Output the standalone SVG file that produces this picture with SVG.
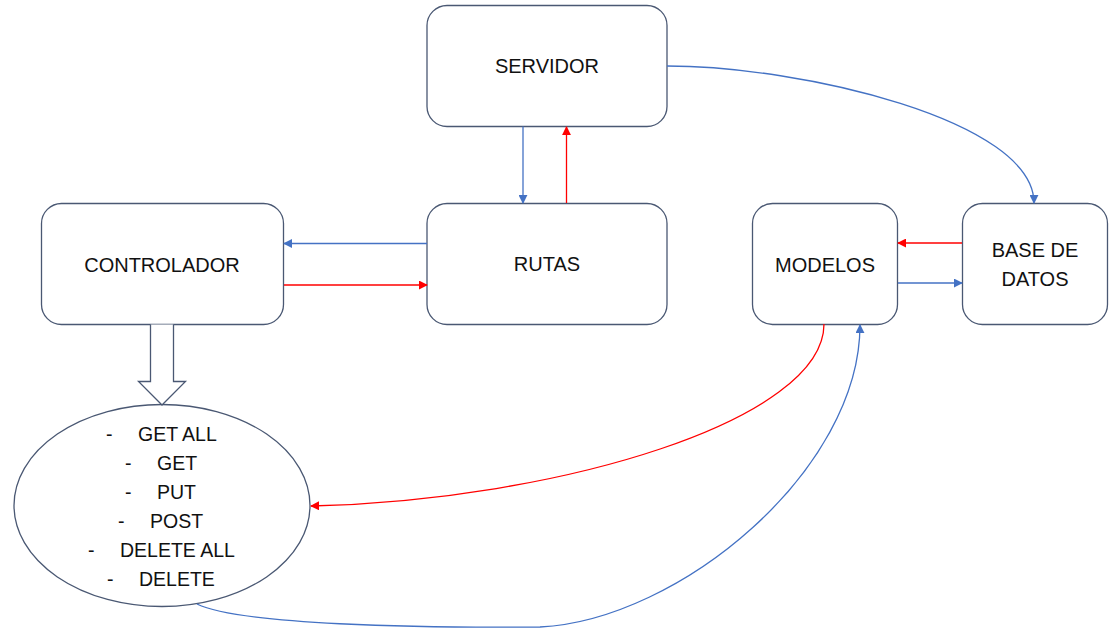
<svg xmlns="http://www.w3.org/2000/svg" width="1115" height="628" viewBox="0 0 1115 628">
  <style>
    .box { fill: #ffffff; stroke: #4a5873; stroke-width: 1.3; }
    .lbl { font-family: "Liberation Sans", Arial, sans-serif; font-size: 20px; fill: #111111; text-anchor: middle; }
    .item { font-family: "Liberation Sans", Arial, sans-serif; font-size: 19.5px; fill: #111111; }
    .blue { fill: none; stroke: #4472c4; stroke-width: 1.3; marker-end: url(#ahBlue); }
    .red { fill: none; stroke: #ff0000; stroke-width: 1.3; marker-end: url(#ahRed); }
  </style>
  <defs>
    <marker id="ahBlue" viewBox="0 0 10 10" refX="9" refY="5" markerWidth="9" markerHeight="9" markerUnits="userSpaceOnUse" orient="auto">
      <path d="M0,0 L10,5 L0,10 Z" fill="#4472c4"/>
    </marker>
    <marker id="ahRed" viewBox="0 0 10 10" refX="9" refY="5" markerWidth="9" markerHeight="9" markerUnits="userSpaceOnUse" orient="auto">
      <path d="M0,0 L10,5 L0,10 Z" fill="#ff0000"/>
    </marker>
  </defs>
  <rect width="1115" height="628" fill="#ffffff"/>

  <g id="servidor">
    <rect class="box" x="427" y="5.5" width="240" height="121" rx="20"/>
    <text class="lbl" x="547" y="73">SERVIDOR</text>
  </g>
  <g id="controlador">
    <rect class="box" x="41.5" y="203.5" width="242" height="121" rx="20"/>
    <text class="lbl" x="162" y="272">CONTROLADOR</text>
  </g>
  <g id="rutas">
    <rect class="box" x="427" y="203.5" width="240" height="121" rx="20"/>
    <text class="lbl" x="547" y="271">RUTAS</text>
  </g>
  <g id="modelos">
    <rect class="box" x="752.5" y="203.5" width="145" height="121" rx="20"/>
    <text class="lbl" x="825" y="272">MODELOS</text>
  </g>
  <g id="base-datos">
    <rect class="box" x="962.5" y="203.5" width="145" height="121" rx="20"/>
    <text class="lbl" x="1035" y="257">BASE DE</text>
    <text class="lbl" x="1035" y="286">DATOS</text>
  </g>
  <g id="metodos">
    <ellipse class="box" cx="162" cy="505.5" rx="148" ry="101"/>
    <text class="item"><tspan x="106" y="441">-</tspan><tspan x="138" y="441">GET ALL</tspan></text>
    <text class="item"><tspan x="125" y="470">-</tspan><tspan x="157" y="470">GET</tspan></text>
    <text class="item"><tspan x="125" y="499">-</tspan><tspan x="157" y="499">PUT</tspan></text>
    <text class="item"><tspan x="118" y="528">-</tspan><tspan x="150" y="528">POST</tspan></text>
    <text class="item"><tspan x="88" y="557">-</tspan><tspan x="120" y="557">DELETE ALL</tspan></text>
    <text class="item"><tspan x="107" y="586">-</tspan><tspan x="139" y="586">DELETE</tspan></text>
  </g>

  <g id="connectors">
    <!-- hollow block arrow from controller down to the method list -->
    <path d="M150.5,324.5 L150.5,381.5 L138.5,381.5 L162,405 L185.5,381.5 L173.5,381.5 L173.5,324.5" fill="#ffffff" stroke="#4a5873" stroke-width="1.3"/>

    <path class="blue" d="M427,243.5 L284,243.5"/>
    <path class="red" d="M284,285 L427,285"/>
    <path class="blue" d="M523,126.5 L523,203"/>
    <path class="red" d="M566.5,203 L566.5,127"/>
    <path class="red" d="M962,243 L898,243"/>
    <path class="blue" d="M898,283 L962,283"/>
    <path class="blue" d="M667,66 C800,66 1034,120 1034,203"/>
    <path class="red" d="M824,324 C824,420 560,500 311,506"/>
    <path class="blue" d="M197,604 C240,625 420,628 540,627 C680,620 860,470 860,325"/>
  </g>
</svg>
